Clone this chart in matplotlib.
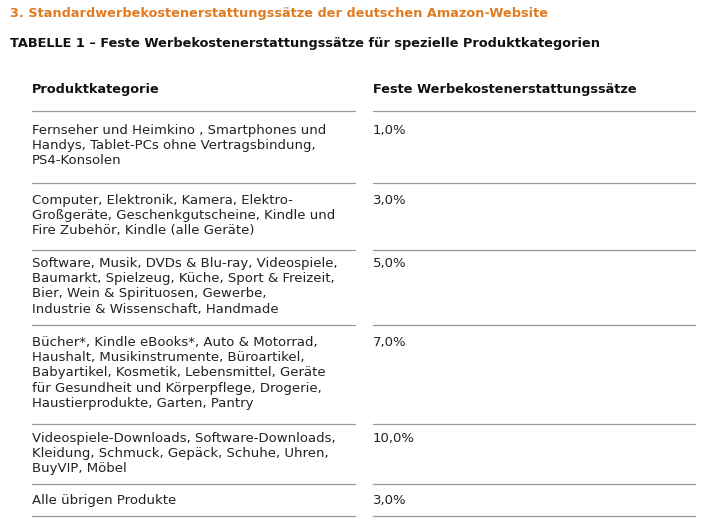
import matplotlib
matplotlib.use("Agg")
import matplotlib.pyplot as plt

title = "3. Standardwerbekostenerstattungssätze der deutschen Amazon-Website"
subtitle = "TABELLE 1 – Feste Werbekostenerstattungssätze für spezielle Produktkategorien"
headers = ["Produktkategorie", "Feste Werbekostenerstattungssätze"]
categories = [
    "Fernseher und Heimkino , Smartphones und\nHandys, Tablet-PCs ohne Vertragsbindung,\nPS4-Konsolen",
    "Computer, Elektronik, Kamera, Elektro-\nGroßgeräte, Geschenkgutscheine, Kindle und\nFire Zubehör, Kindle (alle Geräte)",
    "Software, Musik, DVDs & Blu-ray, Videospiele,\nBaumarkt, Spielzeug, Küche, Sport & Freizeit,\nBier, Wein & Spirituosen, Gewerbe,\nIndustrie & Wissenschaft, Handmade",
    "Bücher*, Kindle eBooks*, Auto & Motorrad,\nHaushalt, Musikinstrumente, Büroartikel,\nBabyartikel, Kosmetik, Lebensmittel, Geräte\nfür Gesundheit und Körperpflege, Drogerie,\nHaustierprodukte, Garten, Pantry",
    "Videospiele-Downloads, Software-Downloads,\nKleidung, Schmuck, Gepäck, Schuhe, Uhren,\nBuyVIP, Möbel",
    "Alle übrigen Produkte",
]
rates = ["1,0%", "3,0%", "5,0%", "7,0%", "10,0%", "3,0%"]

# row layout in pixels (top of text, line below row)
row_tops = [124, 194, 257, 336, 432, 494]
row_lines = [183, 250, 325, 424, 484, 516]

fig = plt.figure(figsize=(7.11, 5.26), dpi=100)
ax = fig.add_axes([0, 0, 1, 1])
ax.set_xlim(0, 711)
ax.set_ylim(526, 0)
ax.axis("off")

ax.text(10, 13, title, color="#e07b22", fontsize=9.3, fontweight="bold", va="center")
ax.text(10, 43, subtitle, color="#111111", fontsize=9.3, fontweight="bold", va="center")
ax.text(32, 90, headers[0], color="#111111", fontsize=9.3, fontweight="bold", va="center")
ax.text(373, 90, headers[1], color="#111111", fontsize=9.3, fontweight="bold", va="center")

line_col = "#999999"
def hline(y):
    ax.plot([32, 355], [y, y], color=line_col, lw=0.9)
    ax.plot([373, 695], [y, y], color=line_col, lw=0.9)

hline(111)
for cat, rate, top, ly in zip(categories, rates, row_tops, row_lines):
    ax.text(32, top, cat, color="#222222", fontsize=9.5, va="top", linespacing=1.22)
    ax.text(373, top, rate, color="#222222", fontsize=9.5, va="top")
    hline(ly)

fig.savefig("out.png", dpi=100)
